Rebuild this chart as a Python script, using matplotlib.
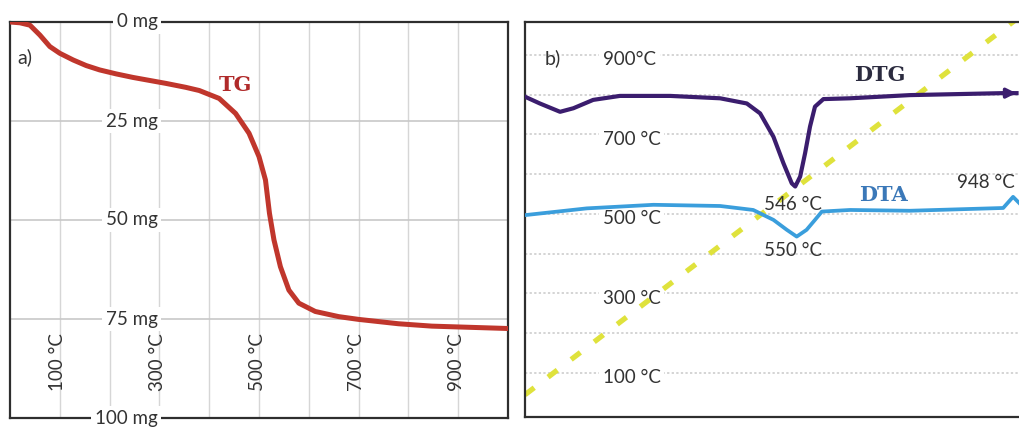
import numpy as np
import matplotlib
matplotlib.use("Agg")
import matplotlib.pyplot as plt

# ---- data ----
# a) TG: temperature (C) vs mass loss (mg)
tg_temp = [0, 20, 40, 60, 80, 100, 127, 153, 180, 213, 247, 313, 353, 380, 420,
           453, 480, 500, 513, 521, 530, 543, 560, 580, 613, 660, 700, 780,
           847, 1000]
tg_mass = [0, 0.2, 0.8, 3.3, 6.2, 7.9, 9.6, 11.0, 12.1, 13.1, 14.0, 15.5, 16.5,
           17.3, 19.3, 23.1, 28.1, 34.0, 39.9, 48.3, 55.0, 61.8, 67.7, 71.0,
           73.1, 74.4, 75.1, 76.2, 76.8, 77.4]

# b) DTG / DTA traces on the temperature scale of panel b
dtg_x = [0, 30, 71, 98, 138, 192, 294, 395, 449, 476, 503, 523, 540, 547, 557,
         567, 577, 587, 604, 658, 779, 968, 995]
dtg_y = [795, 778, 757, 766, 787, 797, 797, 791, 778, 753, 694, 628, 577, 569,
         594, 653, 720, 770, 789, 791, 799, 804, 804]

dta_x = [0, 125, 260, 395, 462, 503, 530, 550, 570, 587, 601, 658, 779, 968,
         988, 1000]
dta_y = [497, 514, 523, 520, 510, 485, 460, 443, 460, 485, 506, 510, 508, 515,
         543, 528]

temp_line_x = [0, 1000]
temp_line_y = [45, 995]

tg_yticks = [0, 25, 50, 75, 100]
tg_xticks = [100, 300, 500, 700, 900]
b_yticks = [900, 700, 500, 300, 100]
b_ylabels = ["900°C", "700 °C", "500 °C", "300 °C", "100 °C"]

peaks = [("546 °C", 543, 523), ("550 °C", 543, 409), ("948 °C", 933, 580)]

# ---- figure ----
W, H = 1019, 429
fig = plt.figure(figsize=(W / 100, H / 100), dpi=100)
plt.rcParams["font.family"] = ["Lato", "DejaVu Sans"]

spine_col = "#2e2e2e"
txt_col = "#333333"
fs = 13.5
lab_box = dict(facecolor="white", edgecolor="none", pad=2.5)

# panel a
ax1 = fig.add_axes([10 / W, 11 / H, 498 / W, 396 / H])
ax1.set_xlim(0, 1000)
ax1.set_ylim(100, 0)
for t in range(100, 1000, 100):
    ax1.axvline(t, color="#d6d6d6", lw=1, zorder=0)
for m in tg_yticks[1:-1]:
    ax1.axhline(m, color="#c8c8c8", lw=1.2, zorder=0)
ax1.plot(tg_temp, tg_mass, color="#c0362c", lw=3.6, solid_capstyle="round",
         solid_joinstyle="round", zorder=3)
ax1.set_xticks([])
ax1.set_yticks([])
for s in ax1.spines.values():
    s.set_color(spine_col)
    s.set_linewidth(1.6)

for m in tg_yticks:
    ax1.text(296, m, f"{m} mg", ha="right", va="center", fontsize=fs,
             color=txt_col, bbox=lab_box, zorder=5, clip_on=False)
for t in tg_xticks:
    ax1.text(t - 4, 86, f"{t} °C", rotation=90, ha="center", va="center",
             fontsize=fs, color=txt_col, zorder=4)
ax1.text(30, 9, "a)", ha="center", va="center", fontsize=14, color=txt_col)
ax1.text(452, 16, "TG", ha="center", va="center", fontsize=15,
         fontweight="bold", family="DejaVu Serif", color="#b02a2a")

# panel b
ax2 = fig.add_axes([525 / W, 12 / H, 494 / W, 395 / H])
ax2.set_xlim(0, 1000)
ax2.set_ylim(-11, 983)
for v in range(100, 1000, 100):
    ax2.axhline(v, color="#c9c9c9", lw=1.1, ls=(0, (1.5, 1.5)), zorder=0)
for v, lab in zip(b_yticks, b_ylabels):
    ax2.text(158, v - 12, lab, ha="left", va="center", fontsize=fs,
             color=txt_col, bbox=lab_box, zorder=1)
ax2.plot(temp_line_x, temp_line_y, color="#dfe23c", lw=3.8,
         dashes=(2.2, 3.3), zorder=2)
ax2.plot(dtg_x, dtg_y, color="#3b1d6e", lw=3.0, solid_joinstyle="round", zorder=3)
ax2.annotate("", xy=(1000, 804), xytext=(975, 804),
             arrowprops=dict(arrowstyle="-|>", color="#3b1d6e", lw=2.5,
                             mutation_scale=14), zorder=3)
ax2.plot(dta_x, dta_y, color="#3a9edc", lw=2.7, solid_joinstyle="round", zorder=3)
ax2.set_xticks([])
ax2.set_yticks([])
ax2.spines["right"].set_visible(False)
for k in ["left", "top", "bottom"]:
    ax2.spines[k].set_color(spine_col)
    ax2.spines[k].set_linewidth(1.6)

ax2.text(57, 893, "b)", ha="center", va="center", fontsize=14, color=txt_col)
ax2.text(719, 850, "DTG", ha="center", va="center", fontsize=15,
         fontweight="bold", family="DejaVu Serif", color="#2b2b3f")
ax2.text(725, 548, "DTA", ha="center", va="center", fontsize=15,
         fontweight="bold", family="DejaVu Serif", color="#3b78b8")
for lab, x, y in peaks:
    ax2.text(x, y, lab, ha="center", va="center", fontsize=fs, color=txt_col,
             zorder=4)

fig.savefig("out.png", dpi=100)
